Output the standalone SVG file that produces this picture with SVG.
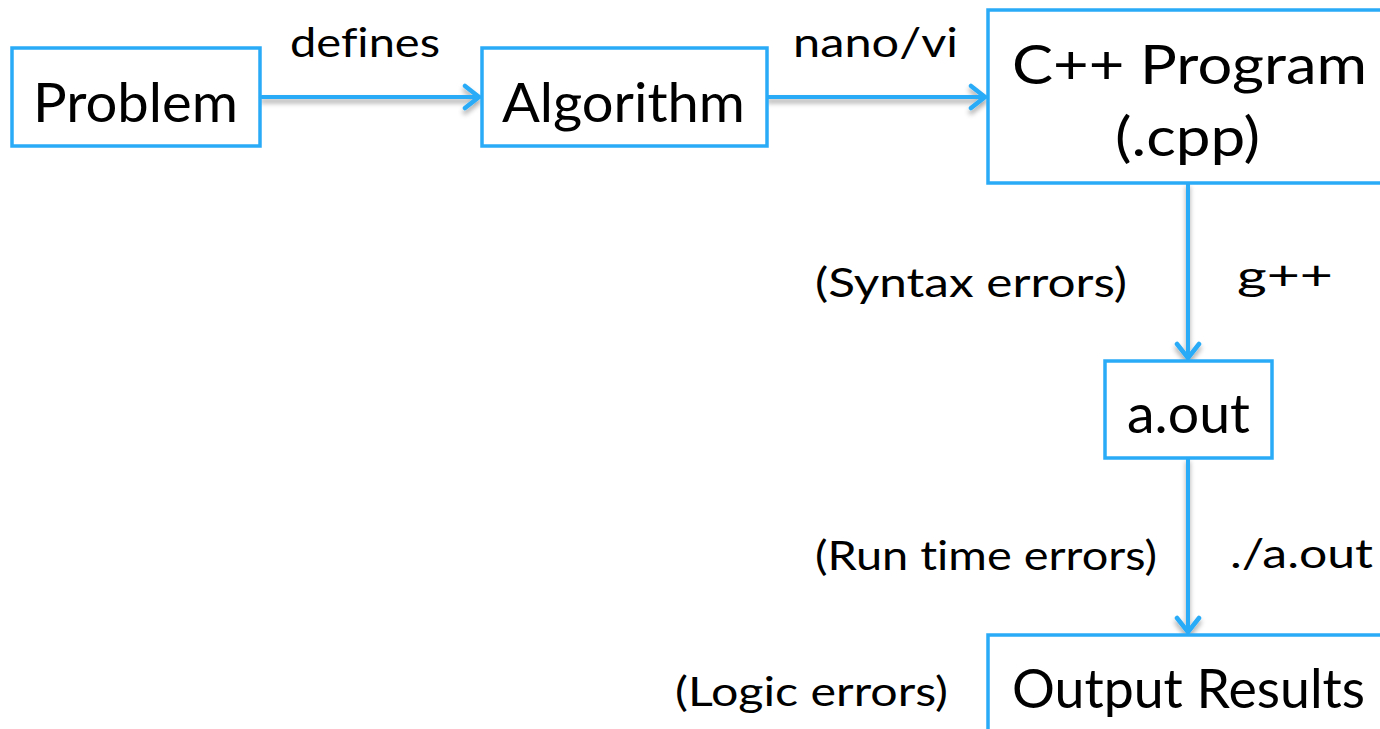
<svg xmlns="http://www.w3.org/2000/svg" width="1380" height="729" viewBox="0 0 1380 729">
  <style>
    .box { fill: #ffffff; stroke: #2aabf7; stroke-width: 3.5; }
    .edge { fill: none; stroke: #2aabf7; stroke-width: 4; stroke-linecap: round; }
    .node-text { font-family: Lato, "Open Sans", sans-serif; font-size: 54px; fill: #000000; font-variant-ligatures: none; }
    .label { font-family: Lato, "Open Sans", sans-serif; font-size: 40px; fill: #000000; font-variant-ligatures: none; }
  </style>
  <defs>
    <filter id="shadow" x="-10%" y="-50%" width="120%" height="200%">
      <feDropShadow dx="0" dy="4" stdDeviation="2.5" flood-color="#000000" flood-opacity="0.35"/>
    </filter>
    <marker id="chevron" markerUnits="userSpaceOnUse" markerWidth="24" markerHeight="28" refX="20" refY="14" orient="auto">
      <path d="M6,3 L20,14 L6,25" fill="none" stroke="#2aabf7" stroke-width="4.5" stroke-linecap="round" stroke-linejoin="round"/>
    </marker>
  </defs>

  <rect width="1380" height="729" fill="#ffffff"/>

  <!-- connectors -->
  <g id="connectors" filter="url(#shadow)">
    <line class="edge" x1="262" y1="97" x2="479" y2="97" marker-end="url(#chevron)"/>
    <line class="edge" x1="768" y1="97" x2="985" y2="97" marker-end="url(#chevron)"/>
    <line class="edge" x1="1188" y1="184" x2="1188" y2="358" marker-end="url(#chevron)"/>
    <line class="edge" x1="1188" y1="459" x2="1188" y2="632" marker-end="url(#chevron)"/>
  </g>

  <!-- edge labels -->
  <g id="edge-labels">
    <text class="label" x="290" y="57" textLength="150" lengthAdjust="spacingAndGlyphs">defines</text>
    <text class="label" x="793" y="57" textLength="165" lengthAdjust="spacingAndGlyphs">nano/vi</text>
    <text class="label" x="815" y="297" textLength="312" lengthAdjust="spacingAndGlyphs">(Syntax errors)</text>
    <text class="label" x="1237" y="290" textLength="96" lengthAdjust="spacingAndGlyphs">g++</text>
    <text class="label" x="815" y="570" textLength="342" lengthAdjust="spacingAndGlyphs">(Run time errors)</text>
    <text class="label" x="1230" y="568" textLength="143" lengthAdjust="spacingAndGlyphs">./a.out</text>
    <text class="label" x="675" y="706" textLength="273" lengthAdjust="spacingAndGlyphs">(Logic errors)</text>
  </g>

  <!-- nodes -->
  <g id="problem">
    <rect class="box" x="12" y="48" width="248" height="98"/>
    <text class="node-text" x="33" y="122" textLength="205" lengthAdjust="spacingAndGlyphs">Problem</text>
  </g>
  <g id="algorithm">
    <rect class="box" x="482" y="48" width="285" height="98"/>
    <text class="node-text" x="502" y="122" textLength="243" lengthAdjust="spacingAndGlyphs">Algorithm</text>
  </g>
  <g id="cpp-program">
    <rect class="box" x="988" y="10" width="410" height="173"/>
    <text class="node-text" x="1012" y="84" textLength="355" lengthAdjust="spacingAndGlyphs">C++ Program</text>
    <text class="node-text" x="1115" y="156" textLength="145" lengthAdjust="spacingAndGlyphs">(.cpp)</text>
  </g>
  <g id="a-out">
    <rect class="box" x="1105" y="361" width="167" height="97"/>
    <text class="node-text" x="1127" y="433" textLength="123" lengthAdjust="spacingAndGlyphs">a.out</text>
  </g>
  <g id="output-results">
    <rect class="box" x="988" y="635" width="410" height="120"/>
    <text class="node-text" x="1012" y="708" textLength="353" lengthAdjust="spacingAndGlyphs">Output Results</text>
  </g>
</svg>
